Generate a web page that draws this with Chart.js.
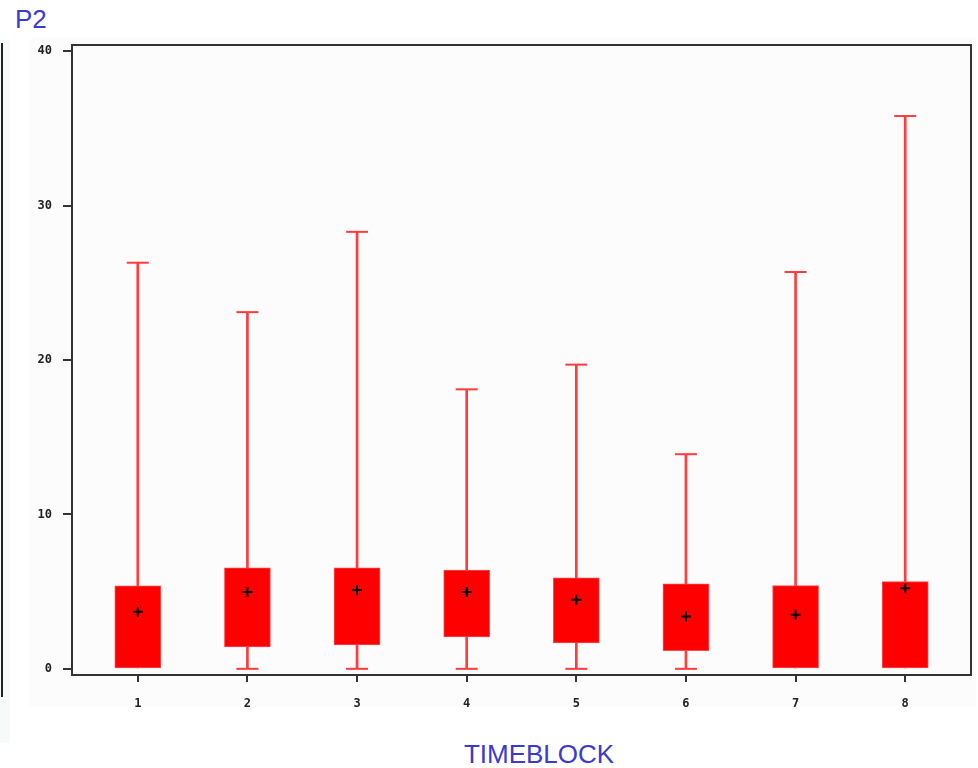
<!DOCTYPE html>
<html>
<head>
<meta charset="utf-8">
<script src="https://cdn.jsdelivr.net/npm/chart.js@4.4.1/dist/chart.umd.min.js"></script>
<style>
    body { margin: 0; background: #ffffff; width: 978px; height: 768px; overflow: hidden; position: relative; }
    #strip { position: absolute; left: 0; top: 40px; width: 10px; height: 703px; background: #f6faf8; }
    #cutline { position: absolute; left: 1px; top: 43px; width: 2px; height: 654px; background: #222; }
    #panel { position: absolute; left: 30px; top: 38px; width: 946px; height: 669px; background: #fcfcfc; }
    .lbl { position: absolute; font-family: "Liberation Sans", Arial, sans-serif; font-size: 26px; line-height: 26px; color: #3a3acc; }
    #titre { left: 15px; top: 6px; }
    #eixoX { left: 539px; top: 741px; transform: translateX(-50%); }
    #grafico { position: absolute; left: 0; top: 0; }
</style>
</head>
<body>
<div id="strip"></div>
<div id="cutline"></div>
<div id="panel"></div>
<div class="lbl" id="titre">P2</div>
<div class="lbl" id="eixoX">TIMEBLOCK</div>
<canvas id="grafico" width="978" height="768"></canvas>

<script>
// dados (um box por TIMEBLOCK)
var timeblocks = [1, 2, 3, 4, 5, 6, 7, 8];
var minimos = [0, 0, 0, 0, 0, 0, 0, 0];
var q1 = [0, 1.42, 1.55, 2.07, 1.68, 1.17, 0, 0];
var q3 = [5.37, 6.54, 6.54, 6.4, 5.89, 5.5, 5.39, 5.65];
var maximos = [26.3, 23.1, 28.3, 18.1, 19.7, 13.9, 25.7, 35.8];
var medias = [3.7, 4.98, 5.11, 4.98, 4.47, 3.39, 3.5, 5.22];
var yTicks = [0, 10, 20, 30, 40];

var vermelho = "#ff0000";
var vermelhoLinha = "#ff3b3b";
var eixoCor = "#333333";

var bigodes = [], caixas = [], tampas = [], pontosMedia = [];
for (var i = 0; i < timeblocks.length; i++) {
    bigodes.push({ x: timeblocks[i], y: [minimos[i], maximos[i]] });
    caixas.push({ x: timeblocks[i], y: [q1[i], q3[i]] });
    //tampa de baixo so aparece quando a caixa nao encosta no minimo
    if (q1[i] > minimos[i]) {
        tampas.push({ x: timeblocks[i], y: minimos[i] });
    }
    tampas.push({ x: timeblocks[i], y: maximos[i] });
    pontosMedia.push({ x: timeblocks[i], y: medias[i] });
}

// moldura em volta da area do grafico
var moldura = {
    id: "moldura",
    afterDatasetsDraw: function (chart) {
        var a = chart.chartArea;
        var ctx = chart.ctx;
        ctx.save();
        ctx.strokeStyle = eixoCor;
        ctx.lineWidth = 2;
        ctx.strokeRect(a.left, a.top, a.right - a.left, a.bottom - a.top);
        ctx.restore();
    }
};

var fonteTick = { family: "'DejaVu Sans Mono', monospace", size: 12, weight: "bold" };

var grafico = new Chart(document.getElementById("grafico"), {
    type: "bar",
    data: {
        datasets: [{
            type: "bar",
            data: bigodes,
            backgroundColor: vermelhoLinha,
            barThickness: 2,
            grouped: false,
            order: 4
        }, {
            type: "line",
            data: tampas,
            showLine: false,
            pointStyle: "line",
            pointRadius: 11,
            pointBorderWidth: 2,
            pointBorderColor: vermelhoLinha,
            pointHoverRadius: 11,
            order: 3
        }, {
            type: "bar",
            data: caixas,
            backgroundColor: vermelho,
            borderColor: "#ff4a4a",
            borderWidth: 1,
            borderSkipped: false,
            barThickness: 46,
            grouped: false,
            order: 2
        }, {
            type: "line",
            data: pontosMedia,
            showLine: false,
            pointStyle: "cross",
            pointRadius: 5,
            pointBorderWidth: 2,
            pointBorderColor: "#000000",
            order: 1
        }]
    },
    options: {
        responsive: false,
        animation: false,
        layout: { autoPadding: false, padding: { left: 0, top: 45, right: 7, bottom: 0 } },
        plugins: { legend: { display: false }, tooltip: { enabled: false } },
        scales: {
            x: {
                type: "linear",
                min: 0.4,
                max: 8.6,
                offset: false,
                grid: { offset: false, drawOnChartArea: false, color: eixoCor, lineWidth: 2, tickLength: 7 },
                border: { color: eixoCor, width: 2 },
                ticks: {
                    stepSize: 1,
                    includeBounds: false,
                    color: "#222",
                    font: fonteTick,
                    padding: 15,
                    callback: function (v) { return timeblocks.indexOf(v) >= 0 ? String(v) : ""; }
                },
                afterFit: function (s) {
                    s.height = 93;
                    s.paddingLeft = 0;
                    s.paddingRight = 0;
                }
            },
            y: {
                min: -0.4,
                max: 40.4,
                grid: { drawOnChartArea: false, color: eixoCor, lineWidth: 2, tickLength: 9 },
                border: { color: eixoCor, width: 2 },
                ticks: {
                    stepSize: 10,
                    includeBounds: false,
                    color: "#222",
                    font: fonteTick,
                    padding: 11,
                    callback: function (v) { return yTicks.indexOf(v) >= 0 ? String(v) : ""; }
                },
                afterFit: function (s) { s.width = 72; }
            }
        }
    },
    plugins: [moldura]
});
</script>
</body>
</html>
